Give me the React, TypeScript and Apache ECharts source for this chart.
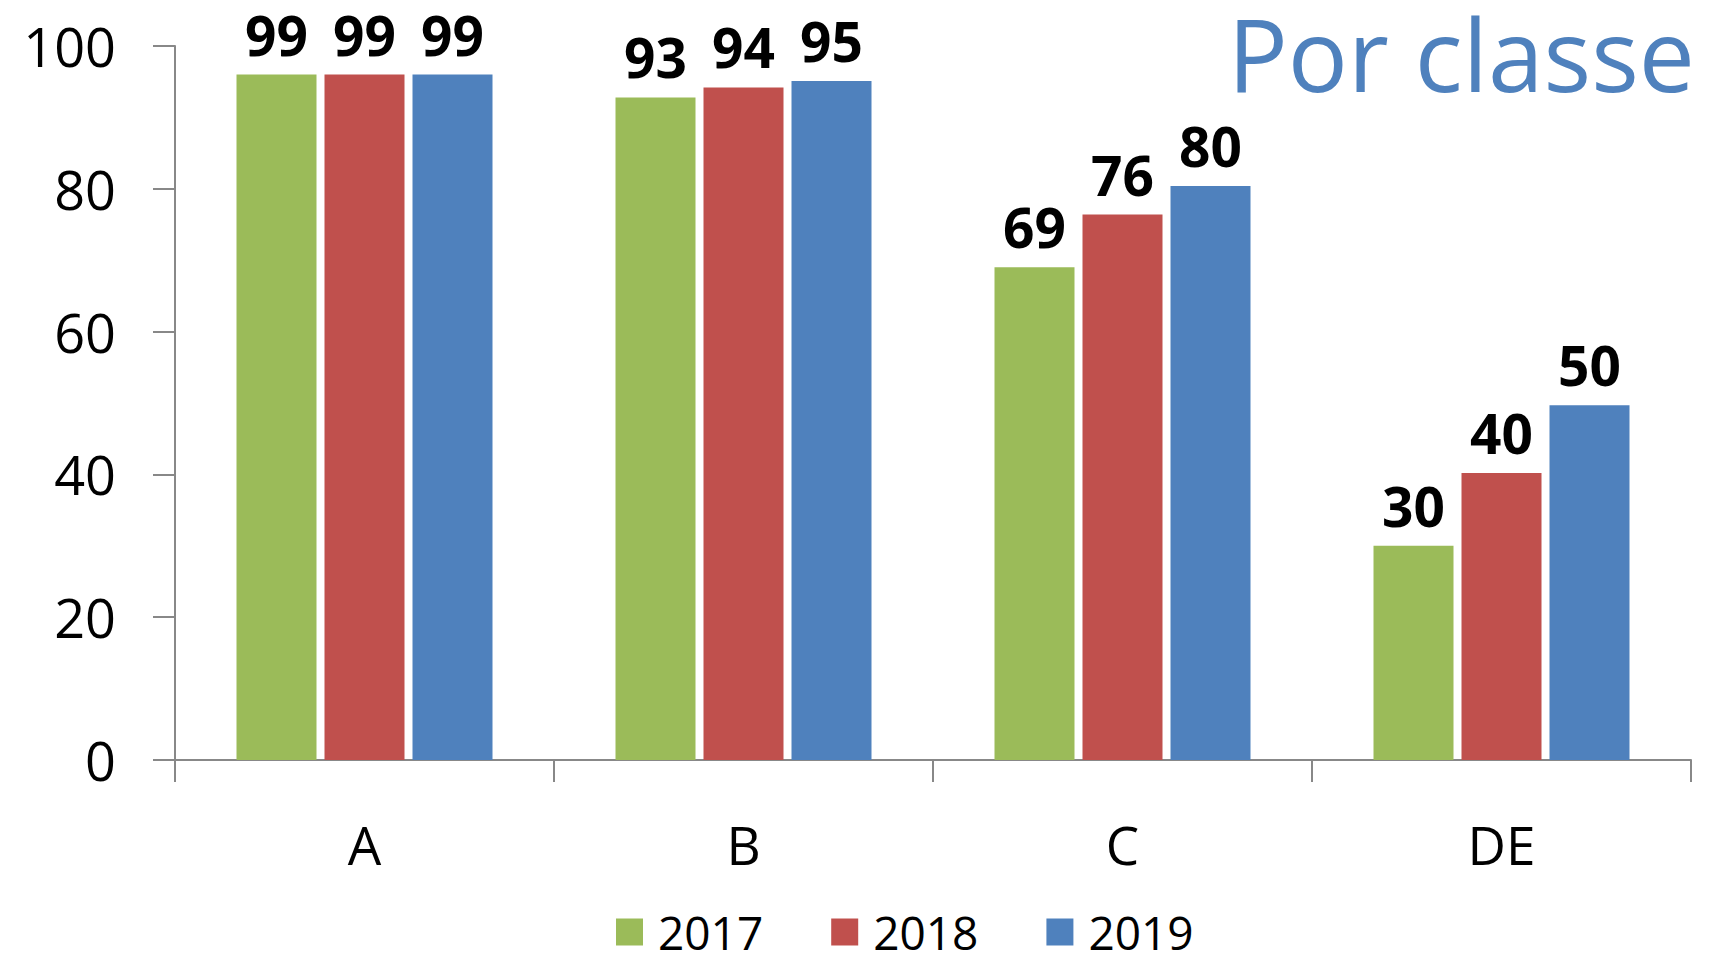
import React, { useEffect, useRef } from "react";
import * as echarts from "echarts";

const categories = ["A", "B", "C", "DE"];
const years = ["2017", "2018", "2019"];
const colors = ["#9BBB59", "#C0504D", "#4F81BD"];
// bar heights as drawn
const values2017 = [96, 92.8, 69, 30];
const values2018 = [96, 94.2, 76.4, 40.2];
const values2019 = [96, 95.1, 80.4, 49.7];
// data label texts as printed
const labels2017 = ["99", "93", "69", "30"];
const labels2018 = ["99", "94", "76", "40"];
const labels2019 = ["99", "95", "80", "50"];
const yTicks = { min: 0, max: 100, interval: 20 };
const title = "Por classe";

const FONT = "'Open Sans', 'Noto Sans', sans-serif";

export default function App() {
  const ref = useRef<HTMLDivElement>(null);
  useEffect(() => {
    document.body.style.margin = "0";
    const chart = echarts.init(ref.current!, null, { renderer: "svg" });
    const seriesVals = [values2017, values2018, values2019];
    const seriesLabels = [labels2017, labels2018, labels2019];
    chart.setOption({
      animation: false,
      textStyle: { fontFamily: FONT },
      title: {
        text: title,
        right: 16,
        top: -2,
        textStyle: { color: "#4F81BD", fontSize: 100, fontWeight: "normal", fontFamily: FONT },
      },
      legend: {
        bottom: -2,
        left: 611,
        itemWidth: 27,
        itemHeight: 27,
        itemGap: 68,
        icon: "rect",
        textStyle: { fontSize: 46, color: "#000", fontFamily: FONT, padding: [0, 0, 0, 10] },
        data: years,
      },
      grid: { left: 175, right: 25, top: 46, bottom: 198 },
      xAxis: {
        type: "category",
        data: categories,
        axisLine: { lineStyle: { color: "#888", width: 2 } },
        axisTick: { show: true, length: 22, lineStyle: { color: "#888", width: 2 } },
        axisLabel: { fontSize: 53, color: "#000", margin: 58, fontFamily: FONT },
      },
      yAxis: {
        type: "value",
        min: yTicks.min,
        max: yTicks.max,
        interval: yTicks.interval,
        splitLine: { show: false },
        axisLine: { show: true, lineStyle: { color: "#888", width: 2 } },
        axisTick: { show: true, length: 22, lineStyle: { color: "#888", width: 2 } },
        axisLabel: { fontSize: 54, color: "#000", margin: 59, fontFamily: FONT },
      },
      series: years.map((y, i) => ({
        name: y,
        type: "bar",
        data: seriesVals[i],
        barWidth: 80,
        barGap: "10%",
        itemStyle: { color: colors[i] },
        label: {
          show: true,
          position: "top",
          distance: 13,
          fontSize: 55,
          fontWeight: "bold",
          color: "#000",
          fontFamily: FONT,
          formatter: (p: any) => seriesLabels[i][p.dataIndex],
        },
      })),
    });
    return () => chart.dispose();
  }, []);
  return <div ref={ref} style={{ width: 1716, height: 958 }} />;
}
